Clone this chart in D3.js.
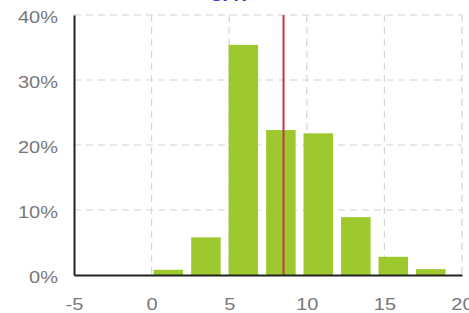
<!DOCTYPE html>
<html><head><meta charset="utf-8">
<script src="https://cdn.jsdelivr.net/npm/d3@7"></script>
<style>body{margin:0;background:#fff}svg{display:block}</style>
</head><body>
<svg id="c" width="469" height="313"></svg>
<script>
const binStart = [0.13, 2.55, 4.96, 7.38, 9.79, 12.21, 14.62, 17.04];
const binWidth = 1.9;
const values = [0.8, 5.8, 35.4, 22.3, 21.8, 8.9, 2.8, 0.9];
const xTicks = [-5, 0, 5, 10, 15, 20];
const yTicks = [0, 10, 20, 30, 40];
const meanValue = 8.5;
const titleText = "8.47";

const svg = d3.select("#c");
const x = d3.scaleLinear().domain([-5, 20]).range([74, 462]);
const y = d3.scaleLinear().domain([0, 40]).range([275, 15]);
const FONT = "16px Arial, 'Liberation Sans', sans-serif";

// grid
svg.append("g").selectAll("line").data(yTicks.filter(d => d > 0)).join("line")
  .attr("x1", x(-5)).attr("x2", x(20)).attr("y1", d => y(d)).attr("y2", d => y(d))
  .attr("stroke", "#d4d4d4").attr("stroke-width", 1.2).attr("stroke-dasharray", "7,5");
svg.append("g").selectAll("line").data(xTicks.filter(d => d > -5)).join("line")
  .attr("x1", d => x(d)).attr("x2", d => x(d)).attr("y1", y(40)).attr("y2", y(0))
  .attr("stroke", "#d4d4d4").attr("stroke-width", 1.2).attr("stroke-dasharray", "7,5");

// bars
svg.append("g").selectAll("rect").data(values).join("rect")
  .attr("x", (d, i) => x(binStart[i]))
  .attr("width", (d, i) => x(binStart[i] + binWidth) - x(binStart[i]))
  .attr("y", d => y(d)).attr("height", d => y(0) - y(d))
  .attr("fill", "#9dc82e");

// mean line
svg.append("line").attr("x1", x(meanValue)).attr("x2", x(meanValue))
  .attr("y1", y(40)).attr("y2", y(0)).attr("stroke", "#c8334f").attr("stroke-width", 2);

// axes
const xa = svg.append("g").attr("transform", `translate(0,${y(0)})`)
  .call(d3.axisBottom(x).tickValues(xTicks).tickSize(0).tickPadding(24).tickFormat(d => String(d)));
xa.select(".domain").attr("stroke", "#222").attr("stroke-width", 2);
xa.selectAll("text").attr("fill", "#777").style("font", FONT)
  .attr("transform", "scale(1.25,1)");

const ya = svg.append("g").attr("transform", `translate(${x(-5)},0)`)
  .call(d3.axisLeft(y).tickValues(yTicks).tickSize(0).tickPadding(16).tickFormat(d => d + "%"));
ya.select(".domain").attr("stroke", "#222").attr("stroke-width", 2);
ya.selectAll("text").attr("fill", "#777").style("font", FONT)
  .attr("x", 0).attr("transform", "translate(-16,2) scale(1.25,1)");

// cut-off title
svg.append("text").attr("x", 231).attr("y", 1).attr("text-anchor", "middle")
  .attr("fill", "#3a3fc8").style("font", "bold 16px Arial, 'Liberation Sans', sans-serif")
  .attr("transform", "translate(231,0) scale(1.3,1) translate(-231,0)").text(titleText);
</script>
</body></html>
